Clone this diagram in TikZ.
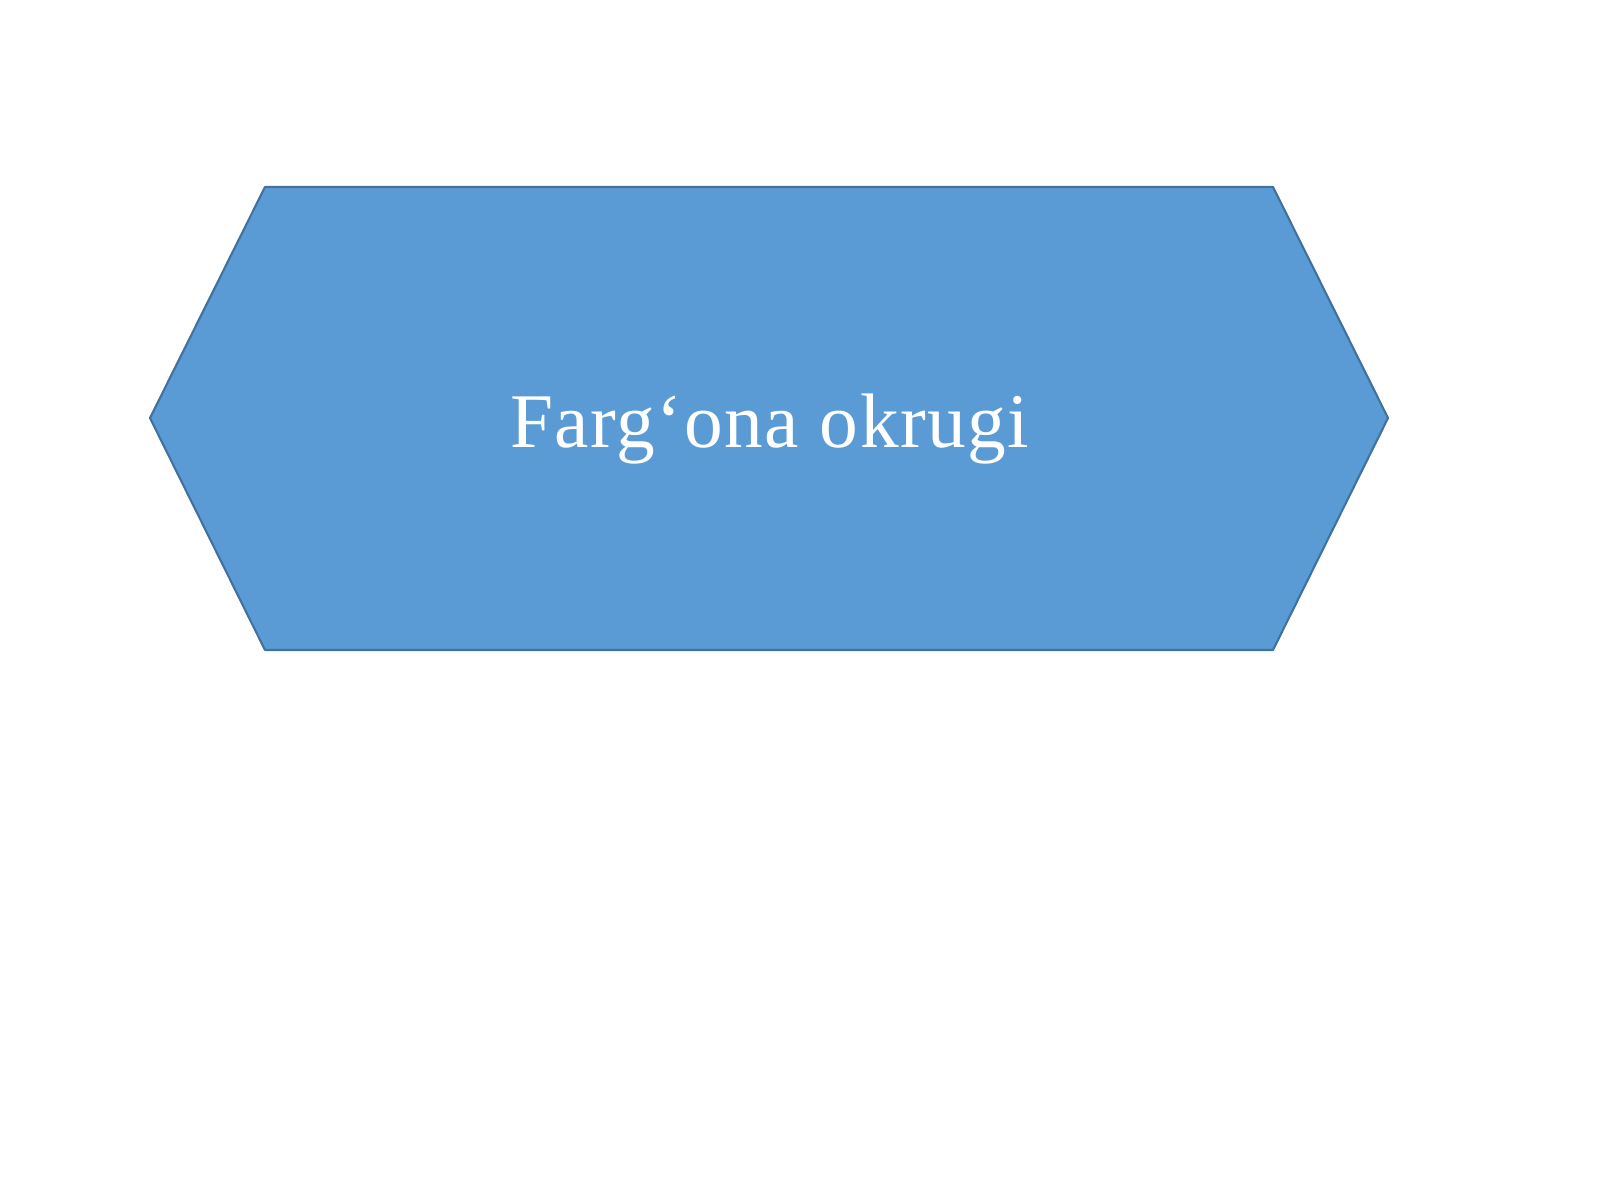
\documentclass[tikz,border=0pt]{standalone}
\usepackage{fontspec}
\setmainfont{Liberation Serif}
\newfontfamily\titlefont[LetterSpace=2]{Liberation Serif}
\usetikzlibrary{positioning}
\definecolor{hexfill}{HTML}{5B9BD5}
\definecolor{hexline}{HTML}{41719C}
\tikzset{hex/.style={fill=hexfill,draw=hexline,line width=0.6pt,line join=round}}
\tikzset{title/.style={text=white,font=\titlefont\fontsize{22}{26}\selectfont,inner sep=0pt}}

\begin{document}
\begin{tikzpicture}
        \useasboundingbox (0,0) rectangle (16,12);
        \coordinate(W) at (1.50,7.82);
        \coordinate(NW) at (2.65,10.13);
        \coordinate(NE) at (12.73,10.13);
        \coordinate(E) at (13.88,7.82);
        \coordinate(SE) at (12.73,5.50);
        \coordinate(SW) at (2.65,5.50);
        \draw[hex] (W) -- (NW) -- (NE) -- (E) -- (SE) -- (SW) -- cycle;
        \node(name)[title,anchor=base] at (7.70,7.53){Farg‘ona okrugi};
      \end{tikzpicture}
\end{document}
